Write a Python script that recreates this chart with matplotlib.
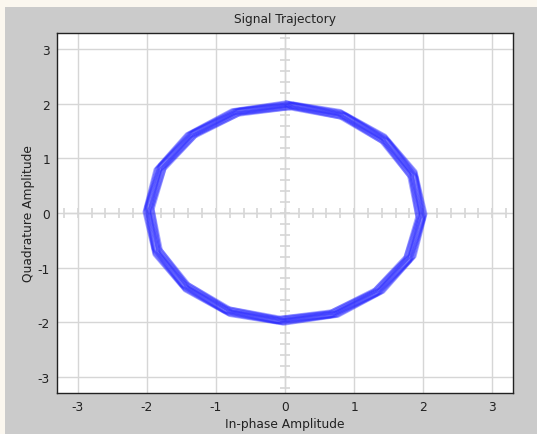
import numpy as np
import matplotlib
matplotlib.use("Agg")
import matplotlib.pyplot as plt
from matplotlib.patches import Rectangle

# Nominal loop vertices (16-point trajectory)
base_i = [0.00, 0.77, 1.41, 1.85, 2.00, 1.85, 1.41, 0.77, 0.00, -0.77, -1.41, -1.85, -2.00, -1.85, -1.41, -0.77, 0.00]
base_q = [2.00, 1.85, 1.41, 0.77, 0.00, -0.77, -1.41, -1.85, -2.00, -1.85, -1.41, -0.77, 0.00, 0.77, 1.41, 1.85, 2.00]
# Per-loop amplitude gain and rotation (deg) estimated from band width / tilt
loop_gain = [1.025, 1.020, 1.015, 1.010, 1.005, 1.000, 0.995, 0.990, 0.985, 0.980,
             0.975, 0.970, 0.965, 0.960, 0.955, 0.950, 1.012, 0.978]
loop_rot = [-0.5, -1.0, -1.5, -2.0, -2.5, -3.0, -1.8, -1.2, -2.2, -2.8,
            -1.6, -0.8, -2.4, -1.4, -3.2, -2.0, -3.5, -0.3]

ticks = [-3, -2, -1, 0, 1, 2, 3]
cross_ticks = [round(v, 1) for v in np.arange(-3.2, 3.21, 0.2)]

W, H = 537, 435
fig = plt.figure(figsize=(W / 100, H / 100), dpi=100)
fig.patch.set_facecolor("#fbf7ef")
fig.patches.append(Rectangle((5 / W, 0), 1 - 5 / W, 1 - 8 / H, transform=fig.transFigure,
                             facecolor="#cbcbcb", edgecolor="none", zorder=-10))

ax = fig.add_axes([57 / W, 1 - 394 / H, (513 - 57) / W, (394 - 34) / H])
ax.set_zorder(5)
ax.set_facecolor("white")
ax.set_xlim(-3.3, 3.3)
ax.set_ylim(-3.3, 3.3)

grid_c = "#d6d6d6"
ax.set_xticks(ticks)
ax.set_yticks(ticks)
ax.grid(True, color=grid_c, linewidth=1.0)
ax.set_axisbelow(True)

# crosshair with small ticks
ax.plot([-3.2, 3.2], [0, 0], color=grid_c, lw=1.0, zorder=1)
ax.plot([0, 0], [-3.2, 3.2], color=grid_c, lw=1.0, zorder=1)
ax.plot(cross_ticks, [0] * len(cross_ticks), linestyle="none", marker="|",
        markersize=7.5, markeredgewidth=1.2, color=grid_c, zorder=1)
ax.plot([0] * len(cross_ticks), cross_ticks, linestyle="none", marker="_",
        markersize=7.5, markeredgewidth=1.2, color=grid_c, zorder=1)

bi = np.array(base_i)
bq = np.array(base_q)
for g, r in zip(loop_gain, loop_rot):
    a = np.deg2rad(r)
    xi = g * (bi * np.cos(a) - bq * np.sin(a))
    xq = g * (bi * np.sin(a) + bq * np.cos(a))
    ax.plot(xi, xq, color=(0.15, 0.15, 1.0), lw=1.3, alpha=0.4, zorder=3)

for s in ax.spines.values():
    s.set_color("#222222")
    s.set_linewidth(1.0)
fam = "DejaVu Sans"
ax.tick_params(direction="in", length=0, labelsize=8.8, pad=5, colors="#222222")
ax.set_xticklabels([str(t) for t in ticks], family=fam)
ax.set_yticklabels([str(t) for t in ticks], family=fam)

ax.set_title("Signal Trajectory", fontsize=8.8, family=fam, pad=8, color="#222222")
ax.set_xlabel("In-phase Amplitude", fontsize=8.8, family=fam, labelpad=3, color="#222222")
ax.set_ylabel("Quadrature Amplitude", fontsize=8.8, family=fam, labelpad=2, color="#222222")

fig.savefig("out.png", dpi=100, facecolor=fig.get_facecolor())
